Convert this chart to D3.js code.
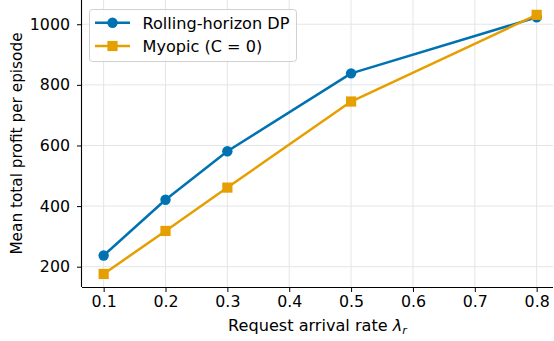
<!DOCTYPE html>
<html><head><meta charset="utf-8">
<script src="https://cdn.jsdelivr.net/npm/d3@7"></script>
<style>body{margin:0;background:#fff}svg{display:block}text{font-family:"DejaVu Sans",sans-serif;fill:#000}</style>
</head><body><svg id="c" width="554" height="341"></svg>
<script>
const rates = [0.1, 0.2, 0.3, 0.5, 0.8];
const dpProfit = [237, 421, 581, 838, 1023];
const myopicProfit = [176, 318, 461, 745, 1031];
const seriesNames = ["Rolling-horizon DP", "Myopic (C = 0)"];
const xTicks = [0.1, 0.2, 0.3, 0.4, 0.5, 0.6, 0.7, 0.8];
const yTicks = [200, 400, 600, 800, 1000];

const svg = d3.select("#c");
const L = 82, R = 553, T = 0, B = 287;
const x = d3.scaleLinear().domain([0.065, 0.8264]).range([L, R]);
const y = d3.scaleLinear().domain([133, 1080]).range([B, T]);
const FS = 15.8;

// grid
const g = svg.append("g");
g.selectAll(".gx").data(xTicks).join("line")
  .attr("x1", d => x(d)).attr("x2", d => x(d)).attr("y1", T).attr("y2", B)
  .attr("stroke", "#e5e5e5").attr("stroke-width", 1);
g.selectAll(".gy").data(yTicks).join("line")
  .attr("x1", L).attr("x2", R).attr("y1", d => y(d)).attr("y2", d => y(d))
  .attr("stroke", "#e5e5e5").attr("stroke-width", 1);

// axes
const xa = svg.append("g").attr("transform", `translate(0,${B})`)
  .call(d3.axisBottom(x).tickValues(xTicks).tickFormat(d3.format(".1f")).tickSize(5).tickPadding(4));
const ya = svg.append("g").attr("transform", `translate(${L},0)`)
  .call(d3.axisLeft(y).tickValues(yTicks).tickFormat(d3.format("d")).tickSize(5).tickPadding(7));
[xa, ya].forEach(a => {
  a.select(".domain").attr("stroke", "#000").attr("stroke-width", 1.1);
  a.selectAll(".tick line").attr("stroke", "#000").attr("stroke-width", 1);
  a.selectAll(".tick text").attr("font-size", FS).attr("font-family", "DejaVu Sans").attr("fill", "#000");
});
xa.select(".domain").attr("d", `M${L},0.5H${R}`);
ya.select(".domain").attr("d", `M-0.5,${B}V${T}`);

const colors = ["#0072B2", "#E69F00"];
const series = [dpProfit, myopicProfit];
const line = d3.line().x((d, i) => x(rates[i])).y(d => y(d));
const RAD = 5.2, SQ = 10.2, LW = 2.5;

series.forEach((vals, si) => {
  svg.append("path").datum(vals).attr("d", line)
    .attr("fill", "none").attr("stroke", colors[si]).attr("stroke-width", LW)
    .attr("stroke-linejoin", "round");
  if (si === 0) {
    svg.selectAll(".m0").data(vals).join("circle")
      .attr("cx", (d, i) => x(rates[i])).attr("cy", d => y(d)).attr("r", RAD)
      .attr("fill", colors[si]);
  } else {
    svg.selectAll(".m1").data(vals).join("rect")
      .attr("x", (d, i) => x(rates[i]) - SQ / 2).attr("y", d => y(d) - SQ / 2)
      .attr("width", SQ).attr("height", SQ).attr("fill", colors[si]);
  }
});

// legend
const lg = svg.append("g");
lg.append("rect").attr("x", 89.5).attr("y", 9.5).attr("width", 207).attr("height", 52)
  .attr("rx", 3).attr("fill", "rgba(255,255,255,0.8)").attr("stroke", "#d0d0d0").attr("stroke-width", 1);
const rowsY = [22.7, 46];
seriesNames.forEach((n, i) => {
  lg.append("line").attr("x1", 95).attr("x2", 130).attr("y1", rowsY[i]).attr("y2", rowsY[i])
    .attr("stroke", colors[i]).attr("stroke-width", LW);
  if (i === 0) lg.append("circle").attr("cx", 112.5).attr("cy", rowsY[i]).attr("r", RAD).attr("fill", colors[i]);
  else lg.append("rect").attr("x", 112.5 - SQ / 2).attr("y", rowsY[i] - SQ / 2).attr("width", SQ).attr("height", SQ).attr("fill", colors[i]);
  lg.append("text").attr("x", 142.5).attr("y", rowsY[i]).attr("dy", "0.36em")
    .attr("font-size", FS * 1.02).text(n);
});

// axis labels
const xl = svg.append("text").attr("x", (L + R) / 2).attr("y", 331).attr("text-anchor", "middle").attr("font-size", FS * 1.02);
xl.append("tspan").text("Request arrival rate ");
xl.append("tspan").attr("font-style", "italic").text("λ");
xl.append("tspan").attr("font-style", "italic").attr("font-size", FS * 0.7).attr("dy", 3).text("r");

svg.append("text").attr("transform", `translate(22,${(T + B) / 2}) rotate(-90)`)
  .attr("text-anchor", "middle").attr("font-size", FS * 0.97).text("Mean total profit per episode");
</script></body></html>
